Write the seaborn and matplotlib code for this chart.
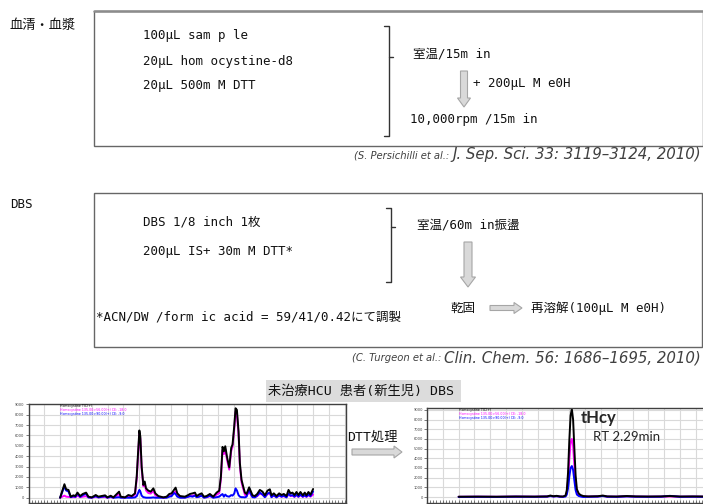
import numpy as np
import pandas as pd
import matplotlib
matplotlib.use("Agg")
import matplotlib.pyplot as plt
import matplotlib.patches as patches
import seaborn as sns

# untreated HCU newborn DBS, before DTT (left) - times in min, intensities in counts
left_time = [0.500, 0.568, 0.595, 0.632, 0.668, 0.711, 0.742, 0.774, 0.816, 0.858,
             0.911, 0.947, 1.000, 1.063, 1.105, 1.211, 1.247, 1.300, 1.342, 1.432,
             1.458, 1.526, 1.579, 1.632, 1.684, 1.711, 1.732, 1.753, 1.768, 1.789,
             1.816, 1.837, 1.858, 1.895, 1.932, 1.974, 2.005, 2.053, 2.089, 2.132,
             2.184, 2.226, 2.263, 2.300, 2.326, 2.353, 2.395, 2.474, 2.526, 2.553,
             2.595, 2.632, 2.658, 2.700, 2.737, 2.774, 2.816, 2.868, 2.921, 2.974,
             3.016, 3.042, 3.068, 3.089, 3.111, 3.137, 3.174, 3.205, 3.226, 3.253,
             3.274, 3.295, 3.321, 3.342, 3.368, 3.395, 3.421, 3.447, 3.489, 3.511,
             3.542, 3.579, 3.616, 3.658, 3.700, 3.737, 3.779, 3.816, 3.842, 3.879,
             3.921, 3.963, 4.000, 4.037, 4.079, 4.111, 4.142, 4.174, 4.205, 4.237,
             4.268, 4.300, 4.337, 4.368, 4.395, 4.426, 4.458, 4.500]
left_tic = [0, 1300, 810, 750, 100, 230, 160, 490, 160, 360,
            490, 100, 30, 260, 100, 230, 30, 190, 30, 580,
            100, 30, 260, 160, 420, 2040, 4300, 6480, 5900, 3000,
            1230, 1560, 900, 680, 580, 900, 420, 160, 100, 30,
            100, 360, 420, 750, 970, 420, 160, 100, 260, 360,
            420, 490, 160, 320, 420, 100, 160, 360, 100, 490,
            680, 2040, 4900, 4470, 4960, 3990, 2920, 4800, 5120, 6900,
            8620, 8460, 6400, 3340, 1720, 1070, 490, 360, 1000, 680,
            230, 160, 360, 750, 580, 230, 680, 810, 230, 420,
            160, 420, 260, 360, 160, 750, 420, 490, 260, 550,
            260, 550, 230, 490, 230, 550, 290, 840]
left_mrm1 = [0, 200, 100, 80, 50, 60, 50, 200, 50, 100,
             150, 30, 0, 100, 30, 80, 0, 60, 0, 350,
             50, 0, 150, 100, 300, 1800, 4000, 6200, 5700, 2800,
             1100, 1400, 700, 450, 400, 650, 250, 80, 50, 0,
             50, 200, 250, 500, 600, 200, 50, 30, 100, 150,
             200, 250, 50, 150, 200, 30, 50, 150, 30, 300,
             450, 1800, 4600, 4200, 4700, 3700, 2700, 4500, 4900, 6600,
             8300, 8100, 6100, 3100, 1500, 850, 300, 150, 600, 350,
             80, 50, 150, 400, 300, 80, 350, 450, 80, 200,
             50, 200, 100, 150, 50, 350, 150, 200, 80, 250,
             80, 250, 80, 200, 80, 250, 100, 300]
left_mrm2 = [0, 1100, 700, 600, 50, 150, 80, 400, 80, 250,
             400, 30, 0, 150, 30, 150, 0, 100, 0, 50,
             0, 0, 0, 0, 30, 150, 450, 750, 600, 200,
             50, 30, 0, 0, 0, 30, 0, 0, 0, 0,
             0, 100, 150, 450, 350, 100, 0, 0, 100, 150,
             100, 200, 50, 100, 200, 0, 50, 200, 0, 50,
             100, 250, 350, 100, 300, 150, 100, 250, 200, 400,
             900, 700, 250, 100, 50, 50, 30, 100, 900, 400,
             50, 30, 200, 500, 300, 50, 400, 500, 50, 250,
             30, 250, 100, 200, 30, 400, 200, 250, 100, 300,
             100, 300, 100, 250, 100, 300, 150, 600]

# after DTT treatment (right)
right_time = [0.50, 0.80, 1.10, 1.40, 1.70, 1.90, 1.95, 2.00, 2.05, 2.10,
              2.15, 2.19, 2.21, 2.23, 2.25, 2.27, 2.29, 2.31, 2.33, 2.35,
              2.37, 2.40, 2.43, 2.47, 2.55, 2.70, 2.78, 2.85, 3.00, 3.16,
              3.30, 3.50, 3.70, 3.84, 4.00, 4.20, 4.40, 4.50]
right_tic = [30, 40, 30, 50, 40, 60, 150, 80, 120, 60,
             50, 150, 700, 2500, 5800, 8400, 9100, 8000, 5000, 2200,
             800, 350, 200, 100, 60, 80, 150, 60, 50, 100,
             60, 50, 60, 100, 50, 60, 50, 60]
right_mrm1 = [20, 30, 20, 40, 30, 50, 120, 60, 100, 40,
              30, 100, 450, 1700, 3900, 5600, 6000, 5300, 3300, 1400,
              500, 200, 100, 50, 40, 60, 120, 40, 30, 80,
              40, 30, 40, 60, 30, 40, 30, 40]
right_mrm2 = [10, 20, 10, 30, 20, 40, 100, 50, 80, 30,
              20, 50, 250, 900, 2100, 3000, 3200, 2800, 1700, 700,
              250, 100, 50, 0, 20, 40, 100, 30, 20, 60,
              30, 20, 30, 120, 20, 30, 20, 30]

trace_names = ["Homocystine TIC(+)",
               "Homocystine 135.00>56.00(+) CE: -18.0",
               "Homocystine 135.00>90.00(+) CE: -9.0"]
trace_colors = ["black", "#ff00ff", "#0000ff"]

sns.set_theme(style="white")
plt.rcParams["font.family"] = ["DejaVu Sans Mono", "Noto Sans CJK JP"]

W, H = 703, 504
fig = plt.figure(figsize=(W / 100, H / 100), dpi=100)


def px_axes(left, top, width, height):
    return fig.add_axes([left / W, 1 - (top + height) / H, width / W, height / H])


def chromatogram(ax, t, tic, m1, m2, ylim):
    df = pd.DataFrame({"time": t, trace_names[0]: tic, trace_names[1]: m1, trace_names[2]: m2})
    long = df.melt("time", var_name="trace", value_name="intensity")
    sns.lineplot(data=long, x="time", y="intensity", hue="trace",
                 hue_order=[trace_names[1], trace_names[2], trace_names[0]],
                 palette=dict(zip(trace_names, trace_colors)),
                 sort=False, legend=False, lw=1.4, ax=ax)
    ax.set_xlim(0, 5.02)
    ax.set_ylim(*ylim)
    ax.set_xticks(np.arange(0, 5.01, 0.25))
    ax.set_xticks(np.arange(0, 5.01, 0.05), minor=True)
    ax.set_xticklabels([])
    ax.set_yticks(range(0, 9001, 1000))
    ax.set_yticklabels([str(v) for v in range(0, 9001, 1000)], family="DejaVu Sans")
    ax.tick_params(axis="y", labelsize=2.6, length=2, width=0.5, pad=1, colors="#444444", left=True)
    ax.tick_params(axis="x", which="both", length=4, width=0.5, direction="inout", bottom=True, colors="#444444")
    ax.grid(True, color="#d9d9d9", lw=0.8)
    ax.set_xlabel("")
    ax.set_ylabel("")
    for s in ax.spines.values():
        s.set_color("#404040")
        s.set_linewidth(1)
    for i, (name, col) in enumerate(zip(trace_names, trace_colors)):
        ax.text(0.1, 0.995 - i * 0.04, name, transform=ax.transAxes, fontsize=2.3,
                color=col, va="top", ha="left", family="DejaVu Sans")


ax_l = px_axes(28.5, 404, 317.5, 99)
chromatogram(ax_l, left_time, left_tic, left_mrm1, left_mrm2, (-510, 9030))

ax_r = px_axes(427, 408, 317.5, 95)
chromatogram(ax_r, right_time, right_tic, right_mrm1, right_mrm2, (-620, 9200))
ax_r.text(2.43, 8200, "tHcy", fontsize=12, fontweight="bold", family="Lato", va="center", ha="left")
ax_r.text(2.62, 6250, "RT 2.29min", fontsize=9.5, family="Lato", va="center", ha="left")

# diagram layer in pixel coordinates
ax = fig.add_axes([0, 0, 1, 1], zorder=5)
ax.set_xlim(0, W)
ax.set_ylim(H, 0)
ax.axis("off")


def label(x, y, s, size=9, **kw):
    ax.text(x, y, s, fontsize=size, va="center", ha=kw.pop("ha", "left"), color="#111111", **kw)


def block_arrow(x, y, dx, dy, w, hw, hl):
    ax.add_patch(patches.FancyArrow(x, y, dx, dy, width=w, head_width=hw, head_length=hl,
                                    length_includes_head=True, fc="#d9d9d9", ec="#a6a6a6", lw=0.8))


def bracket(x, top, bottom, mid):
    ax.plot([x - 5, x, x, x - 5], [top, top, bottom, bottom], color="#333333", lw=1)
    ax.plot([x, x + 4], [mid, mid], color="#333333", lw=1)


renderer = fig.canvas.get_renderer()


def citation(right, y, small, journal):
    j = ax.text(right, y, journal, fontsize=10.8, style="italic", color="#404040", va="center",
                ha="right", family="DejaVu Sans")
    left_px = j.get_window_extent(renderer).x0
    x0 = ax.transData.inverted().transform((left_px, 0))[0]
    ax.text(x0 - 3, y, small, fontsize=7.2, style="italic", color="#404040", va="center", ha="right",
            family=["Liberation Sans Narrow", "DejaVu Sans"])


# serum / plasma
label(10, 25, "血清・血漿", 9.5)
ax.add_patch(patches.Rectangle((94, 11), 609, 135, fill=False, ec="#666666", lw=1))
ax.plot([94, 703], [11, 11], color="#8c8c8c", lw=1.8)
label(143, 36, "100μL sam p le")
label(143, 62, "20μL hom ocystine-d8")
label(143, 86, "20μL 500m M DTT")
bracket(389, 26, 136, 57)
label(413, 54, "室温/15m in")
block_arrow(464, 71, 0, 36, 7, 13, 9)
label(473, 84, "+ 200μL M e0H")
label(410, 119, "10,000rpm /15m in")
citation(701, 155, "(S. Persichilli et al.:", "J. Sep. Sci. 33: 3119–3124, 2010)")

# DBS
label(10, 205, "DBS", 9)
ax.add_patch(patches.Rectangle((94, 193), 608, 154, fill=False, ec="#666666", lw=1))
label(143, 222, "DBS 1/8 inch 1枚")
label(143, 252, "200μL IS+ 30m M DTT*")
label(96, 317, "*ACN/DW /form ic acid = 59/41/0.42にて調製")
bracket(391, 208, 282, 227)
label(417, 225, "室温/60m in振盪")
block_arrow(468, 242, 0, 45, 8, 15, 10)
label(450, 308, "乾固")
block_arrow(490, 308, 32, 0, 5, 11, 8)
label(531, 308, "再溶解(100μL M e0H)")
citation(701, 358, "(C. Turgeon et al.:", "Clin. Chem. 56: 1686–1695, 2010)")

# chromatogram header
ax.add_patch(patches.Rectangle((266, 380), 195, 22, fc="#dcdcdc", ec="none"))
label(268, 391, "未治療HCU 患者(新生児) DBS", 9.5)
label(347, 437, "DTT処理", 9.5)
block_arrow(352, 452, 50, 0, 6, 12, 8)

fig.savefig("out.png", dpi=100)
